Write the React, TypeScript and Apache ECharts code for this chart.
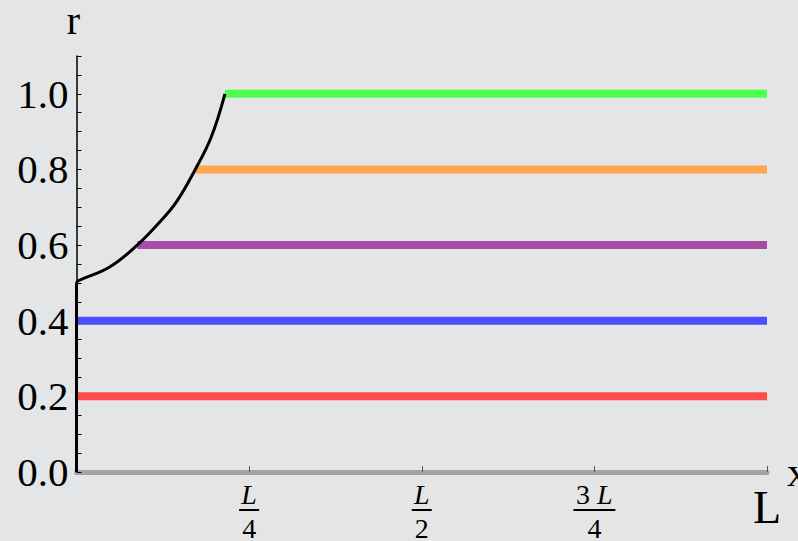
import React, { useEffect, useRef } from "react";
import * as echarts from "echarts";

// Black boundary curve r(x), x in units of L
const curveVerticalX = [0, 0];
const curveVerticalR = [0, 0.5];
const curveX = [0, 0.002, 0.048, 0.088, 0.12, 0.145, 0.172, 0.195, 0.215];
const curveR = [0.5, 0.505, 0.542, 0.6, 0.66, 0.715, 0.8, 0.885, 1.0];

// Horizontal level lines: r value, start x, end x
const levelR = [0.2, 0.4, 0.6, 0.8, 1.0];
const levelStartX = [0, 0, 0.088, 0.172, 0.215];
const levelEndX = [1, 1, 1, 1, 1];
const levelColors = ["#ff4d4d", "#4d4dff", "#a64da6", "#ffa64d", "#4dff4d"];

const xTickValues = [0, 0.25, 0.5, 0.75, 1];
const xTickLabels = ["", "{n|L}\n{bar| }\n{d|4}", "{n|L}\n{bar| }\n{d|2}", "{n3|3 }{n|L}\n{barw| }\n{d|4}", "{big|L}"];

const SERIF = "'Liberation Serif', 'DejaVu Serif', serif";

export default function App() {
  const ref = useRef<HTMLDivElement>(null);
  useEffect(() => {
    if (!ref.current) return;
    const chart = echarts.init(ref.current, null, { renderer: "svg" });
    const series: any[] = [];
    levelR.forEach((r, i) => {
      series.push({
        type: "line",
        data: [
          [levelStartX[i], r],
          [levelEndX[i], r],
        ],
        symbol: "none",
        clip: false,
        lineStyle: { color: levelColors[i], width: 8, cap: "butt" },
        z: 3,
      });
    });
    series.push({
      type: "line",
      data: curveVerticalX.map((x, i) => [x, curveVerticalR[i]]),
      symbol: "none",
      clip: false,
      lineStyle: { color: "#000", width: 3 },
      z: 4,
    });
    series.push({
      type: "line",
      data: curveX.map((x, i) => [x, curveR[i]]),
      symbol: "none",
      clip: false,
      smooth: 0.4,
      lineStyle: { color: "#000", width: 3 },
      z: 4,
    });

    chart.setOption({
      animation: false,
      backgroundColor: "#e3e5e7",
      grid: {
        left: 76.5,
        right: 31,
        top: 56,
        bottom: 69,
        containLabel: false,
        outerBoundsMode: "none",
      },
      xAxis: {
        type: "value",
        min: 0,
        max: 1,
        interval: 0.25,
        name: "x",
        nameLocation: "end",
        nameGap: 18,
        nameTextStyle: { fontFamily: SERIF, fontSize: 42, color: "#000" },
        axisLine: { show: true, onZero: false, lineStyle: { color: "#a3a3a3", width: 5 } },
        axisTick: { show: true, inside: true, length: 6, lineStyle: { color: "#555", width: 1 } },
        splitLine: { show: false },
        axisLabel: {
          margin: 10,
          color: "#000",
          fontFamily: SERIF,
          formatter: (v: number) => {
            const idx = xTickValues.findIndex((t) => Math.abs(t - v) < 1e-9);
            return idx >= 0 ? xTickLabels[idx] : "";
          },
          rich: {
            n: { fontFamily: SERIF, fontStyle: "italic", fontSize: 28, lineHeight: 24, color: "#000" },
            n3: { fontFamily: SERIF, fontSize: 28, lineHeight: 24, color: "#000" },
            d: { fontFamily: SERIF, fontSize: 28, lineHeight: 28, color: "#000" },
            bar: { width: 20, height: 2, lineHeight: 8, backgroundColor: "#000", fontSize: 2 },
            barw: { width: 42, height: 2, lineHeight: 8, backgroundColor: "#000", fontSize: 2 },
            big: { fontFamily: SERIF, fontSize: 46, lineHeight: 50, color: "#000" },
          },
        },
      },
      yAxis: {
        type: "value",
        min: 0,
        max: 1.1,
        interval: 0.05,
        name: "r",
        nameLocation: "end",
        nameGap: 20,
        nameTextStyle: {
          fontFamily: SERIF,
          fontSize: 40,
          lineHeight: 32,
          color: "#000",
          padding: [0, 0, 0, -6],
        },
        axisLine: { show: true, onZero: false, lineStyle: { color: "#000", width: 1.5 } },
        axisTick: { show: true, inside: true, length: 5, lineStyle: { color: "#000", width: 1 } },
        splitLine: { show: false },
        axisLabel: {
          margin: 8,
          color: "#000",
          fontFamily: SERIF,
          fontSize: 41,
          formatter: (v: number) => {
            const k = Math.round(v * 100);
            return k % 20 === 0 ? (k / 100).toFixed(1) : "";
          },
        },
      },
      series,
    });
    return () => chart.dispose();
  }, []);
  return (
    <div
      ref={ref}
      style={{ position: "fixed", left: 0, top: 0, width: 798, height: 541 }}
    />
  );
}
